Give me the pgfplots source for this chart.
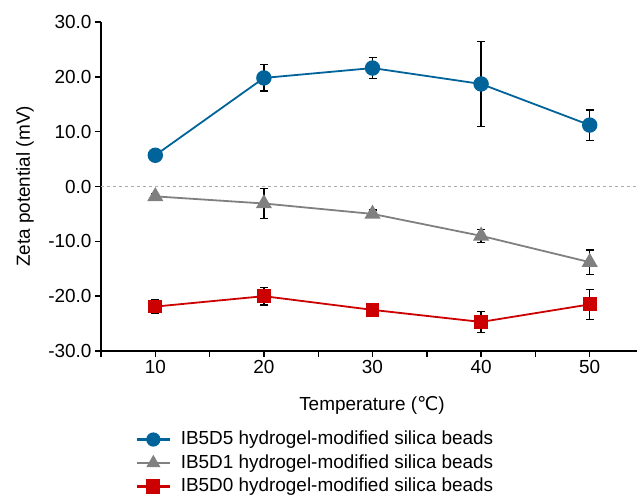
\documentclass[border=0pt]{standalone}
\usepackage{fontspec}
\setmainfont{Liberation Sans}
\newfontfamily\dejavu{DejaVu Sans}
\usepackage{pgfplots}
\usepackage{pgfplotstable}
\pgfplotsset{compat=1.18}
\definecolor{cblue}{RGB}{0,99,153}
\definecolor{cgray}{RGB}{128,128,128}
\definecolor{cred}{RGB}{204,0,0}
\definecolor{dashgray}{RGB}{170,170,170}

\pgfplotstableread{
x y e
10 5.7 0
20 19.8 2.4
30 21.6 1.9
40 18.7 7.7
50 11.2 2.75
}\blueData
\pgfplotstableread{
x y e
10 -1.8 0.5
20 -3.1 2.7
30 -5.0 0.7
40 -9.0 1.2
50 -13.8 2.2
}\grayData
\pgfplotstableread{
x y e
10 -21.9 1.2
20 -20.0 1.6
30 -22.5 1.0
40 -24.7 1.9
50 -21.5 2.75
}\redData

\begin{document}
\begin{tikzpicture}
\begin{axis}[
  at={(0bp,0bp)}, anchor=south west,
  scale only axis, width=543bp, height=329bp,
  xmin=5, xmax=55, ymin=-30, ymax=30,
  axis x line*=bottom, axis y line*=left,
  axis line style={line width=1.4bp, black, -},
  xtick={10,20,30,40,50},
  xticklabels={10,20,30,40,50},
  minor xtick={5,15,25,35,45,55},
  ytick={-30,-20,-10,0,10,20,30},
  yticklabels={-30.0,-20.0,-10.0,0.0,10.0,20.0,30.0},
  tick align=outside,
  major tick length=6bp, minor tick length=6bp,
  every tick/.style={black, line width=1.4bp},
  ticklabel style={font=\fontsize{19}{22}\selectfont},
  xlabel={Temperature ({\dejavu ℃})},
  ylabel={Zeta potential (mV)},
  label style={font=\fontsize{19}{22}\selectfont},
  xlabel style={at={(axis description cs:0.499,-0.164)}, anchor=center},
  ylabel style={at={(axis description cs:-0.14,0.5)}, anchor=center, rotate=0},
  legend style={at={(axis description cs:0.053,-0.232)}, anchor=north west,
    draw=none, fill=none, font=\fontsize{19}{23}\selectfont,
    row sep=3.5bp, nodes={inner sep=1bp, text height=14bp, text depth=4bp}},
  legend cell align=left,
  legend image code/.code={
    \draw[line width=2.2bp, mark repeat=2, mark phase=2, mark size=6bp] plot coordinates {(3bp,0bp) (19.5bp,0bp) (36bp,0bp)};
    \path (0bp,0bp) (45bp,0bp);
  },
  clip=false,
  every axis plot/.append style={line width=1.8bp},
  error bars/error bar style={black, line width=1.3bp},
  error bars/error mark options={rotate=90, mark size=4bp, line width=1.3bp, black},
]
\addplot[dashgray, dashed, line width=1bp, forget plot] coordinates {(5,0) (55,0)};
\addplot[cblue, mark=*, mark size=6.8bp, mark options={fill=cblue, draw=cblue},
  error bars/.cd, y dir=both, y explicit]
  table[x=x, y=y, y error=e] {\blueData};
\addlegendentry{IB5D5 hydrogel-modified silica beads}
\addplot[cgray, mark=triangle*, mark size=7.5bp, mark options={fill=cgray, draw=cgray},
  error bars/.cd, y dir=both, y explicit]
  table[x=x, y=y, y error=e] {\grayData};
\addlegendentry{IB5D1 hydrogel-modified silica beads}
\addplot[cred, mark=square*, mark size=6bp, mark options={fill=cred, draw=cred},
  error bars/.cd, y dir=both, y explicit]
  table[x=x, y=y, y error=e] {\redData};
\addlegendentry{IB5D0 hydrogel-modified silica beads}
\end{axis}
\pgfresetboundingbox
\path[use as bounding box] (-101bp,-144bp) rectangle (536bp,351bp);
\end{tikzpicture}
\end{document}
